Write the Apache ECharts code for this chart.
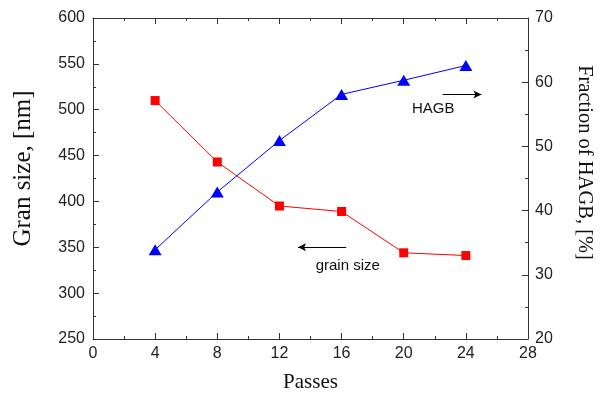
<!DOCTYPE html>
<html>
<head>
<meta charset="utf-8">
<script src="https://cdn.jsdelivr.net/npm/echarts@6/dist/echarts.min.js"></script>
<style>html,body{margin:0;padding:0;background:#fff}#c{width:604px;height:398px}</style>
</head>
<body>
<div id="c"></div>
<script>
const passes = [4, 8, 12, 16, 20, 24];
const grainSize = [510, 443, 395, 389, 344, 341];
const hagb = [33.9, 42.9, 50.9, 58.1, 60.3, 62.6];
const xTitle = 'Passes';
const yLeftTitle = 'Gran size, [nm]';
const yRightTitle = 'Fraction of HAGB, [%]';
const hagbNote = { text: 'HAGB', x: 21.9, y: 55.8, arrowFrom: [22.5, 58.1], arrowTo: [25.0, 58.1] };
const grainNote = { text: 'grain size', x: 16.4, y: 330, arrowFrom: [16.3, 350], arrowTo: [13.2, 350] };

const sans = 'Liberation Sans, Arial, sans-serif';
const serif = 'Liberation Serif, Times New Roman, serif';
const axisColor = '#333';

function tickAxisCommon() {
  return {
    axisLine: { show: true, onZero: false, lineStyle: { color: axisColor, width: 1 } },
    axisTick: { show: true, inside: true, length: 6, lineStyle: { color: axisColor } },
    minorTick: { show: true, splitNumber: 2, length: 3, lineStyle: { color: axisColor } },
    splitLine: { show: false },
    minorSplitLine: { show: false }
  };
}

const chart = echarts.init(document.getElementById('c'), null, { renderer: 'canvas' });
chart.setOption({
  animation: false,
  backgroundColor: '#fff',
  grid: { left: 93, right: 76, top: 18, bottom: 57, containLabel: false },
  xAxis: [
    Object.assign({
      type: 'value', min: 0, max: 28, interval: 4, position: 'bottom',
      name: xTitle, nameLocation: 'middle', nameGap: 33,
      nameTextStyle: { fontFamily: serif, fontSize: 21, color: '#111' },
      axisLabel: { fontFamily: sans, fontSize: 16, color: '#222', margin: 7 }
    }, tickAxisCommon()),
    Object.assign({
      type: 'value', min: 0, max: 28, interval: 4, position: 'top',
      axisLabel: { show: false }
    }, tickAxisCommon())
  ],
  yAxis: [
    Object.assign({
      type: 'value', min: 250, max: 600, interval: 50, position: 'left',
      name: yLeftTitle, nameLocation: 'middle', nameGap: 57, nameRotate: 90,
      nameTextStyle: { fontFamily: serif, fontSize: 25, color: '#111', padding: [0, 0, 0, 20] },
      axisLabel: { fontFamily: sans, fontSize: 16, color: '#222', margin: 8 }
    }, tickAxisCommon()),
    Object.assign({
      type: 'value', min: 20, max: 70, interval: 10, position: 'right',
      name: yRightTitle, nameLocation: 'middle', nameGap: 46, nameRotate: -90,
      nameTextStyle: { fontFamily: serif, fontSize: 20.5, color: '#111', padding: [0, 32, 0, 0] },
      axisLabel: { fontFamily: sans, fontSize: 16, color: '#222', margin: 7 }
    }, tickAxisCommon())
  ],
  series: [
    {
      type: 'line', name: 'grain size', xAxisIndex: 0, yAxisIndex: 0,
      data: passes.map((p, i) => [p, grainSize[i]]),
      symbol: 'rect', symbolSize: 9, showAllSymbol: true,
      lineStyle: { color: '#ff0000', width: 1 },
      itemStyle: { color: '#ff0000' },
      markLine: {
        silent: true, symbol: ['none', 'arrow'], symbolSize: [6, 8],
        lineStyle: { color: '#000', width: 1, type: 'solid' },
        label: { show: false },
        data: [[{ coord: grainNote.arrowFrom }, { coord: grainNote.arrowTo }]]
      },
      markPoint: {
        silent: true, symbol: 'rect', symbolSize: 1,
        itemStyle: { color: 'rgba(0,0,0,0)' },
        label: { show: true, position: 'inside', formatter: grainNote.text, fontFamily: sans, fontSize: 15, color: '#111' },
        data: [{ coord: [grainNote.x, grainNote.y] }]
      }
    },
    {
      type: 'line', name: 'HAGB', xAxisIndex: 0, yAxisIndex: 1,
      data: passes.map((p, i) => [p, hagb[i]]),
      symbol: 'triangle', symbolSize: [13, 11], showAllSymbol: true,
      lineStyle: { color: '#0000ff', width: 1 },
      itemStyle: { color: '#0000ff' },
      markLine: {
        silent: true, symbol: ['none', 'arrow'], symbolSize: [6, 8],
        lineStyle: { color: '#000', width: 1, type: 'solid' },
        label: { show: false },
        data: [[{ coord: hagbNote.arrowFrom }, { coord: hagbNote.arrowTo }]]
      },
      markPoint: {
        silent: true, symbol: 'rect', symbolSize: 1,
        itemStyle: { color: 'rgba(0,0,0,0)' },
        label: { show: true, position: 'inside', formatter: hagbNote.text, fontFamily: sans, fontSize: 15, color: '#111' },
        data: [{ coord: [hagbNote.x, hagbNote.y] }]
      }
    }
  ]
});
</script>
</body>
</html>
